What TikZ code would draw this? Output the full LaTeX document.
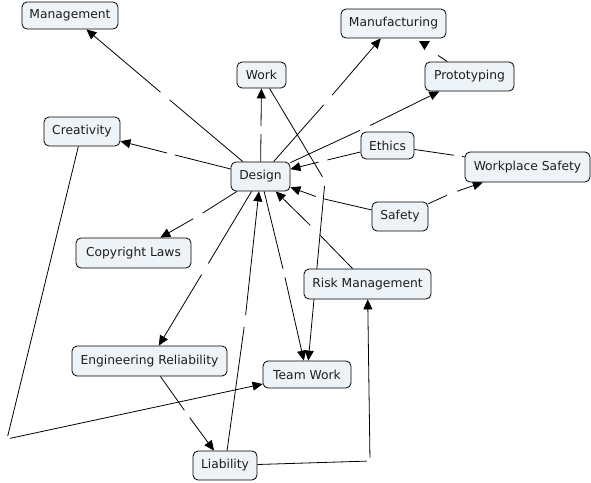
\documentclass[tikz,border=0pt]{standalone}
\usepackage{fontspec}
\setmainfont{DejaVu Sans}
\usetikzlibrary{arrows.meta}
\pgfdeclarelayer{edges}
\pgfsetlayers{edges,main}
\definecolor{nodefill}{RGB}{237,243,246}
\definecolor{txt}{RGB}{30,30,30}
\newcommand{\cmaplink}[4]{%
  \draw[conn, shorten >=#4pt] (#1) -- (#2);
  \draw[arr, shorten <=#4pt] (#2) -- (#3);}
\begin{document}
\begin{tikzpicture}[x=1pt,y=-1pt,
  concept/.style={draw=black, line width=0.8pt, rounded corners=5pt, fill=nodefill,
    inner sep=0pt, font=\fontsize{12.3}{14}\selectfont, text=txt},
  conn/.style={draw=black, line width=0.8pt},
  arr/.style={conn, -{Triangle[length=10pt,width=9pt]}}]
\useasboundingbox (0,0) rectangle (591,482);

% concepts
\node[concept, minimum width=96pt, minimum height=27pt] (Management) at (70,15.5) {Management};
\node[concept, minimum width=105pt, minimum height=29pt] (Manufacturing) at (393.5,23.5) {Manufacturing};
\node[concept, minimum width=49pt, minimum height=26pt] (Work) at (261.5,75) {Work};
\node[concept, minimum width=89pt, minimum height=29pt] (Prototyping) at (469.5,76.5) {Prototyping};
\node[concept, minimum width=76pt, minimum height=29pt] (Creativity) at (82,131.5) {Creativity};
\node[concept, minimum width=53pt, minimum height=27pt] (Ethics) at (387.5,145.5) {Ethics};
\node[concept, minimum width=59pt, minimum height=29pt] (Design) at (260.5,176.5) {Design};
\node[concept, minimum width=125pt, minimum height=30pt] (Workplace) at (527.5,167) {Workplace Safety};
\node[concept, minimum width=56pt, minimum height=29pt] (Safety) at (400,216.5) {Safety};
\node[concept, minimum width=115pt, minimum height=30pt] (Copyright) at (133.5,253) {Copyright Laws};
\node[concept, minimum width=127pt, minimum height=30pt] (RiskMgmt) at (367.5,284) {Risk Management};
\node[concept, minimum width=155pt, minimum height=30pt] (EngRel) at (149.5,361) {Engineering Reliability};
\node[concept, minimum width=88pt, minimum height=27pt] (TeamWork) at (307,374.5) {Team Work};
\node[concept, minimum width=64pt, minimum height=29pt] (Liability) at (225,465.5) {Liability};

% link-phrase positions (gaps)
\coordinate (lMan) at (165,96);
\coordinate (lCre) at (171,154);
\coordinate (lWork) at (261,130);
\coordinate (lMfg) at (328,100);
\coordinate (lPro) at (365,128);
\coordinate (lPM) at (433,52);
\coordinate (lEth) at (323,161);
\coordinate (lEW) at (459,156);
\coordinate (lSaf) at (320,198);
\coordinate (lSW) at (452,193);
\coordinate (lCop) at (198,216);
\coordinate (lEng) at (205,269);
\coordinate (lLD) at (245,321);
\coordinate (lDT) at (284,273);
\coordinate (lWT) at (325,181);
\coordinate (lRD) at (315,230);
\coordinate (lEL) at (187,414);
\coordinate (lLR) at (370,461);
\coordinate (lCT) at (7,439);
\coordinate (tipPM) at (424.5,50);

% connectors (drawn below the nodes)
\begin{pgfonlayer}{edges}
\cmaplink{Design}{lMan}{Management}{6}
\cmaplink{Design}{lCre}{Creativity}{4}
\cmaplink{Design}{lWork}{Work}{4}
\cmaplink{Design}{lMfg}{Manufacturing}{6.5}
\cmaplink{Design}{lPro}{Prototyping}{5.5}
\cmaplink{Ethics}{lEth}{Design}{4.5}
\cmaplink{Safety}{lSaf}{Design}{4.5}
\cmaplink{Safety}{lSW}{Workplace}{5.5}
\cmaplink{Design}{lCop}{Copyright}{5.5}
\cmaplink{Design}{lEng}{EngRel}{6.5}
\cmaplink{Liability}{lLD}{Design}{6}
\cmaplink{Design}{lDT}{TeamWork}{4.5}
\cmaplink{Work}{lWT}{TeamWork}{5}
\cmaplink{RiskMgmt}{lRD}{Design}{6.5}
\cmaplink{EngRel}{lEL}{Liability}{4.5}
\cmaplink{Liability}{lLR}{RiskMgmt}{3.5}
\cmaplink{Creativity}{lCT}{TeamWork}{3}
% Prototyping -> Manufacturing
\draw[conn, shorten >=6pt] (Prototyping) -- (lPM);
\fill[black] (419,41) -- (430,41) -- (tipPM) -- cycle;
% Ethics -- Workplace Safety
\draw[conn, shorten >=5pt] (Ethics) -- (lEW);
\draw[conn, shorten <=3pt] (lEW) -- (Workplace);
\end{pgfonlayer}
\end{tikzpicture}
\end{document}
